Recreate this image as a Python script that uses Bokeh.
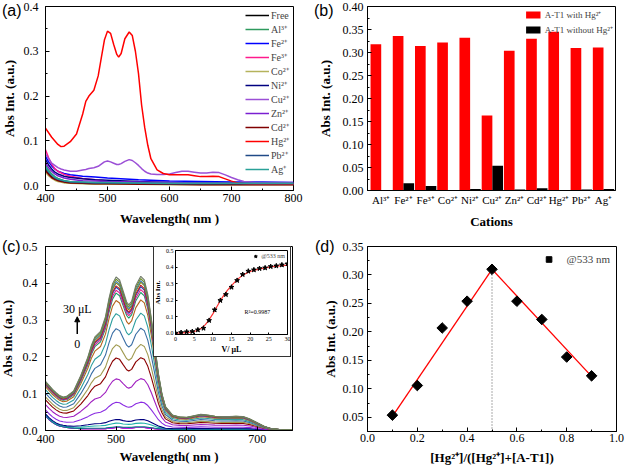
import numpy as np
from bokeh.plotting import figure
from bokeh.models import (Column, Label, Arrow, NormalHead, FixedTicker, Div,
                          NumeralTickFormatter, ColumnDataSource)
from bokeh.transform import dodge
from bokeh.embed import file_html
from bokeh.resources import INLINE

SERIF = "Liberation Serif"
SANS = "Liberation Sans"

# ---------------- data: panel (a) ----------------
wl_a_fine = [400, 410, 420, 425, 430, 440, 450, 460, 465, 470, 478, 485, 490, 495, 500,
             505, 510, 515, 518, 522, 528, 535, 540, 545, 550, 555, 560, 565, 570, 580,
             590, 600, 610, 620, 630, 640, 650, 660, 670, 680, 690, 700, 710, 720, 740, 760, 800]
hg_a = [0.128, 0.108, 0.092, 0.087, 0.088, 0.098, 0.115, 0.160, 0.188, 0.200, 0.213, 0.245, 0.285, 0.325, 0.345,
        0.340, 0.315, 0.293, 0.287, 0.295, 0.328, 0.343, 0.335, 0.300, 0.250, 0.180, 0.130, 0.090, 0.060, 0.035,
        0.027, 0.024, 0.024, 0.024, 0.024, 0.022, 0.020, 0.020, 0.021, 0.020, 0.015, 0.010, 0.006, 0.004, 0.003, 0.003, 0.003]
cu_a = [0.070, 0.050, 0.040, 0.037, 0.035, 0.032, 0.032, 0.035, 0.036, 0.038, 0.040, 0.043, 0.048, 0.053, 0.055,
        0.053, 0.050, 0.047, 0.047, 0.049, 0.054, 0.058, 0.056, 0.051, 0.045, 0.038, 0.032, 0.028, 0.026, 0.025,
        0.025, 0.026, 0.029, 0.032, 0.032, 0.030, 0.028, 0.028, 0.030, 0.029, 0.024, 0.018, 0.013, 0.009, 0.007, 0.007, 0.007]
wl_a = [400, 405, 410, 415, 420, 430, 440, 460, 480, 500, 550, 600, 650, 700, 750, 800]
free_a = [0.035, 0.026, 0.019, 0.014, 0.011, 0.008, 0.006, 0.005, 0.004, 0.004, 0.003, 0.003, 0.003, 0.003, 0.003, 0.003]
al_a = [0.045, 0.034, 0.026, 0.020, 0.016, 0.011, 0.008, 0.006, 0.005, 0.005, 0.004, 0.004, 0.003, 0.003, 0.003, 0.003]
fe2_a = [0.065, 0.053, 0.044, 0.037, 0.032, 0.027, 0.024, 0.021, 0.019, 0.017, 0.013, 0.010, 0.009, 0.008, 0.008, 0.007]
fe3_a = [0.080, 0.062, 0.048, 0.038, 0.032, 0.025, 0.021, 0.016, 0.013, 0.010, 0.006, 0.004, 0.003, 0.003, 0.003, 0.003]
co_a = [0.030, 0.022, 0.016, 0.012, 0.009, 0.006, 0.005, 0.004, 0.003, 0.003, 0.003, 0.002, 0.002, 0.002, 0.002, 0.002]
ni_a = [0.058, 0.046, 0.037, 0.030, 0.026, 0.021, 0.018, 0.015, 0.013, 0.012, 0.009, 0.007, 0.006, 0.005, 0.005, 0.004]
zn_a = [0.050, 0.040, 0.032, 0.026, 0.022, 0.017, 0.014, 0.011, 0.010, 0.009, 0.008, 0.007, 0.006, 0.006, 0.005, 0.005]
cd_a = [0.033, 0.025, 0.018, 0.014, 0.011, 0.008, 0.006, 0.005, 0.004, 0.004, 0.003, 0.003, 0.002, 0.002, 0.002, 0.002]
pb_a = [0.040, 0.030, 0.023, 0.017, 0.014, 0.010, 0.008, 0.007, 0.006, 0.006, 0.005, 0.004, 0.004, 0.004, 0.004, 0.004]
ag_a = [0.042, 0.032, 0.024, 0.019, 0.015, 0.011, 0.009, 0.008, 0.007, 0.007, 0.006, 0.005, 0.005, 0.005, 0.005, 0.005]

# ---------------- data: panel (b) ----------------
cations = ["Al³⁺", "Fe²⁺", "Fe³⁺", "Co²⁺", "Ni²⁺", "Cu²⁺", "Zn²⁺", "Cd²⁺", "Hg²⁺", "Pb²⁺", "Ag⁺"]
with_hg = [0.318, 0.336, 0.314, 0.322, 0.332, 0.163, 0.304, 0.330, 0.345, 0.310, 0.311]
without_hg = [0.000, 0.016, 0.010, 0.000, 0.003, 0.054, 0.002, 0.005, 0.000, 0.002, 0.003]

# ---------------- data: panel (c) ----------------
wl_c = [400, 405, 410, 415, 420, 425, 430, 440, 450, 460, 465, 470, 478, 485, 490, 495,
        500, 505, 510, 515, 518, 522, 528, 535, 540, 545, 550, 555, 560, 565, 570, 580,
        590, 600, 610, 620, 630, 640, 650, 660, 670, 680, 690, 700, 710, 720, 735, 750]
spec_30uL = [0.134, 0.123, 0.112, 0.103, 0.095, 0.091, 0.093, 0.108, 0.150, 0.200, 0.232, 0.255, 0.270, 0.310, 0.360, 0.400,
             0.418, 0.410, 0.380, 0.350, 0.342, 0.352, 0.395, 0.420, 0.410, 0.370, 0.305, 0.230, 0.155, 0.100, 0.065, 0.042,
             0.037, 0.036, 0.040, 0.044, 0.042, 0.039, 0.038, 0.038, 0.039, 0.038, 0.031, 0.021, 0.011, 0.005, 0.002, 0.001]
spec_0uL = [0.040, 0.030, 0.022, 0.016, 0.012, 0.010, 0.008, 0.006, 0.005, 0.005, 0.005, 0.005, 0.005, 0.005, 0.006, 0.007,
            0.008, 0.008, 0.007, 0.007, 0.007, 0.007, 0.008, 0.008, 0.008, 0.007, 0.006, 0.005, 0.004, 0.004, 0.003, 0.003,
            0.003, 0.003, 0.003, 0.003, 0.003, 0.003, 0.003, 0.003, 0.003, 0.003, 0.003, 0.002, 0.002, 0.002, 0.001, 0.001]
vol_ul = [0, 1.5, 3, 4.5, 6, 7.5, 9, 10.5, 12, 13.5, 15, 16.5, 18, 19.5, 21, 22.5, 24, 25.5, 27, 28.5, 30]
abs_533 = [0.000, 0.004, 0.008, 0.010, 0.020, 0.030, 0.077, 0.141, 0.198, 0.234, 0.278, 0.319, 0.355, 0.375,
           0.383, 0.391, 0.395, 0.403, 0.407, 0.413, 0.419]
fit_v = [0, 2, 4, 5, 6, 7, 8, 9, 10, 11, 12, 13, 14, 15, 16, 17, 18, 19, 20, 21, 22, 24, 26, 28, 30]
fit_abs = [0.000, 0.002, 0.006, 0.010, 0.018, 0.031, 0.052, 0.081, 0.117, 0.157, 0.196, 0.232, 0.262, 0.288,
           0.312, 0.333, 0.350, 0.363, 0.373, 0.380, 0.386, 0.395, 0.402, 0.407, 0.411]
titration_colors = ["#ff0000", "#0000ff", "#ff00ff", "#008080", "#20b2aa", "#000080", "#8a2be2", "#a020c0",
                    "#8b0000", "#a09a50", "#3a6ea5", "#2e9f9f", "#b5651d", "#1a9a6a", "#e0208a", "#2040c0",
                    "#c02020", "#808000", "#4682b4", "#6b8e23", "#707a68"]

# ---------------- data: panel (d) ----------------
mole_frac = [0.1, 0.2, 0.3, 0.4, 0.5, 0.6, 0.7, 0.8, 0.9]
job_abs = [0.054, 0.106, 0.207, 0.254, 0.310, 0.254, 0.222, 0.156, 0.123]
fit_left_x = [0.1, 0.5]
fit_left_y = [0.052, 0.310]
fit_right_x = [0.5, 0.9]
fit_right_y = [0.310, 0.122]

BL, BR, BT, BB = 70, 30, 20, 50   # generous borders; frames are placed exactly via absolute offsets


def base_fig(fw, fh, xr, yr):
    p = figure(frame_width=fw, frame_height=fh, x_range=xr, y_range=yr, output_backend="svg",
               toolbar_location=None, min_border_left=BL, min_border_right=BR,
               min_border_top=BT, min_border_bottom=BB)
    p.xgrid.visible = False
    p.ygrid.visible = False
    p.outline_line_color = "black"
    p.outline_line_alpha = 1
    p.outline_line_width = 1
    p.background_fill_color = "white"
    p.border_fill_alpha = 0
    for ax in list(p.xaxis) + list(p.yaxis):
        ax.major_tick_in = 4
        ax.major_tick_out = 0
        ax.minor_tick_in = 2
        ax.minor_tick_out = 0
        ax.axis_line_color = "black"
        ax.major_tick_line_color = "black"
        ax.minor_tick_line_color = "black"
        ax.major_label_text_font = SERIF
        ax.major_label_text_font_size = "12px"
        ax.major_label_text_color = "black"
        ax.axis_label_text_font = SERIF
        ax.axis_label_text_font_style = "bold"
        ax.axis_label_text_font_size = "13px"
        ax.axis_label_text_color = "black"
    return p


# ================= panel (a) =================
pa = base_fig(248, 184, (400, 800), (-0.011, 0.4))
pa.xaxis.ticker = FixedTicker(ticks=[400, 500, 600, 700, 800], minor_ticks=[450, 550, 650, 750])
pa.yaxis.ticker = FixedTicker(ticks=[0.0, 0.1, 0.2, 0.3, 0.4], minor_ticks=[0.05, 0.15, 0.25, 0.35])
pa.yaxis.formatter = NumeralTickFormatter(format="0.0")
pa.xaxis.axis_label = "Wavelength( nm )"
pa.yaxis.axis_label = "Abs Int. (a.u.)"
pa.xaxis.major_label_standoff = 3
pa.xaxis.axis_label_standoff = 6
pa.yaxis.major_label_standoff = 7
pa.yaxis.axis_label_standoff = 4

series_a = [
    ("Free", wl_a, free_a, "#000000"),
    ("Al³⁺", wl_a, al_a, "#2e9a5e"),
    ("Fe²⁺", wl_a, fe2_a, "#0000ff"),
    ("Fe³⁺", wl_a, fe3_a, "#ff1a8c"),
    ("Co²⁺", wl_a, co_a, "#b5b35c"),
    ("Ni²⁺", wl_a, ni_a, "#000080"),
    ("Cu²⁺", wl_a_fine, cu_a, "#9b4fd6"),
    ("Zn²⁺", wl_a, zn_a, "#7a1fd1"),
    ("Cd²⁺", wl_a, cd_a, "#800000"),
    ("Hg²⁺", wl_a_fine, hg_a, "#ff0000"),
    ("Pb²⁺", wl_a, pb_a, "#204a87"),
    ("Ag⁺", wl_a, ag_a, "#2aa198"),
]
for name, xs, ys, col in series_a:
    pa.line(xs, ys, line_color=col, line_width=1.5, legend_label=name)
lg = pa.legend[0]
lg.location = "top_right"
lg.margin = 0
lg.padding = 2
lg.spacing = 0
lg.border_line_alpha = 0
lg.background_fill_alpha = 0
lg.glyph_width = 24
lg.glyph_height = 14
lg.label_height = 14
lg.label_standoff = 2
lg.label_text_font = SERIF
lg.label_text_font_size = "10px"

# ================= panel (b) =================
pb = base_fig(248, 184, (0.383, 11.54), (0, 0.40))
src_b = ColumnDataSource(dict(x=list(range(1, len(cations) + 1)), w=with_hg, wo=without_hg))
pb.vbar(x=dodge("x", -0.24), top="w", width=0.48, source=src_b, fill_color="#ff0000",
        line_color=None, legend_label="A-T1 with Hg²⁺")
pb.vbar(x=dodge("x", 0.24), top="wo", width=0.48, source=src_b, fill_color="#000000",
        line_color=None, legend_label="A-T1 without Hg²⁺")
pb.xaxis.ticker = FixedTicker(ticks=list(range(1, len(cations) + 1)))
pb.xaxis.major_label_overrides = {i + 1: c for i, c in enumerate(cations)}
pb.xaxis.major_label_text_font_size = "11px"
pb.xaxis.major_tick_in = 0
pb.yaxis.ticker = FixedTicker(ticks=[0.0, 0.05, 0.10, 0.15, 0.20, 0.25, 0.30, 0.35, 0.40],
                              minor_ticks=[0.025, 0.075, 0.125, 0.175, 0.225, 0.275, 0.325, 0.375])
pb.yaxis.formatter = NumeralTickFormatter(format="0.00")
pb.xaxis.axis_label = "Cations"
pb.yaxis.axis_label = "Abs Int. (a.u.)"
pb.xaxis.major_label_standoff = 3
pb.xaxis.axis_label_standoff = 5
pb.yaxis.major_label_standoff = 4
pb.yaxis.axis_label_standoff = 7
lb = pb.legend[0]
lb.location = "top_right"
lb.margin = 0
lb.padding = 2
lb.spacing = 2
lb.border_line_alpha = 0
lb.background_fill_alpha = 0
lb.glyph_width = 18
lb.glyph_height = 9
lb.label_height = 10
lb.label_standoff = 3
lb.label_text_font = SERIF
lb.label_text_font_size = "9px"

# ================= panel (c) =================
pc = base_fig(247, 184, (400, 750), (0, 0.5))
pc.xaxis.ticker = FixedTicker(ticks=[400, 500, 600, 700], minor_ticks=[450, 550, 650, 750])
pc.yaxis.ticker = FixedTicker(ticks=[0.0, 0.1, 0.2, 0.3, 0.4, 0.5],
                              minor_ticks=[0.05, 0.15, 0.25, 0.35, 0.45])
pc.yaxis.formatter = NumeralTickFormatter(format="0.0")
pc.xaxis.axis_label = "Wavelength( nm )"
pc.yaxis.axis_label = "Abs Int. (a.u.)"
pc.xaxis.major_label_standoff = 4
pc.xaxis.axis_label_standoff = 3
pc.yaxis.major_label_standoff = 8
pc.yaxis.axis_label_standoff = 5

top_arr = np.array(spec_30uL)
free_arr = np.array(spec_0uL)
i535 = wl_c.index(535)
# each titration spectrum: the 533 nm absorbance read from the inset sets how far it has
# moved from the 0 uL spectrum towards the 30 uL spectrum
for amp, col in zip(abs_533, titration_colors):
    frac = (amp - free_arr[i535]) / (top_arr[i535] - free_arr[i535])
    frac = max(frac, 0.0)
    pc.line(wl_c, free_arr + frac * (top_arr - free_arr), line_color=col, line_width=1.1)

lab_x = 445
pc.add_layout(Label(x=lab_x, y=0.329, text="30 μL", text_font=SERIF, text_font_size="12px",
                    text_align="center", text_baseline="middle", text_color="black"))
pc.add_layout(Label(x=lab_x, y=0.234, text="0", text_font=SERIF, text_font_size="12px",
                    text_align="center", text_baseline="middle", text_color="black"))
pc.add_layout(Arrow(end=NormalHead(size=5, fill_color="black", line_color="black"),
                    x_start=lab_x, y_start=0.262, x_end=lab_x, y_end=0.309,
                    line_color="black", line_width=1.5))

# ================= inset =================
pin = base_fig(112, 84, (0, 30), (-0.008, 0.5))
pin.xaxis.ticker = FixedTicker(ticks=[0, 5, 10, 15, 20, 25, 30])
pin.yaxis.ticker = FixedTicker(ticks=[0.0, 0.1, 0.2, 0.3, 0.4, 0.5])
pin.yaxis.formatter = NumeralTickFormatter(format="0.0")
for ax in list(pin.xaxis) + list(pin.yaxis):
    ax.major_label_text_font_size = "6px"
    ax.major_tick_in = 2
    ax.major_label_standoff = 2
    ax.axis_label_standoff = 1
pin.xaxis.axis_label = "V/ μL"
pin.xaxis.axis_label_text_font_size = "8px"
pin.yaxis.axis_label = "Abs Int."
pin.yaxis.axis_label_text_font_size = "7px"
pin.line(fit_v, fit_abs, line_color="#ff3030", line_width=1.2)
pin.scatter(vol_ul, abs_533, marker="star", size=5, fill_color="black", line_color="black",
            legend_label="@533 nm")
pin.add_layout(Label(x=18.5, y=0.13, text="R²=0.9987", text_font=SERIF, text_font_size="6px",
                     text_baseline="middle", text_color="black"))
li = pin.legend[0]
li.location = "top_right"
li.margin = 2
li.padding = 0
li.border_line_alpha = 0
li.background_fill_alpha = 0
li.glyph_width = 8
li.glyph_height = 8
li.label_height = 8
li.label_standoff = 2
li.label_text_font = SERIF
li.label_text_font_size = "6px"

# ================= panel (d) =================
pd_ = base_fig(249, 185, (0.0, 1.0), (0.0253, 0.35))
pd_.xaxis.ticker = FixedTicker(ticks=[0.0, 0.2, 0.4, 0.6, 0.8, 1.0], minor_ticks=[0.1, 0.3, 0.5, 0.7, 0.9])
pd_.yaxis.ticker = FixedTicker(ticks=[0.05, 0.10, 0.15, 0.20, 0.25, 0.30, 0.35],
                               minor_ticks=[0.075, 0.125, 0.175, 0.225, 0.275, 0.325])
pd_.xaxis.formatter = NumeralTickFormatter(format="0.0")
pd_.yaxis.formatter = NumeralTickFormatter(format="0.00")
pd_.xaxis.axis_label = "[Hg²⁺]/([Hg²⁺]+[A-T1])"
pd_.yaxis.axis_label = "Abs Int. (a.u.)"
pd_.xaxis.major_label_standoff = 2
pd_.xaxis.axis_label_standoff = 5
pd_.yaxis.major_label_standoff = 4
pd_.yaxis.axis_label_standoff = 2
ipk = int(np.argmax(job_abs))
pd_.segment(x0=[mole_frac[ipk]], y0=[pd_.y_range.start], x1=[mole_frac[ipk]], y1=[job_abs[ipk]],
            line_color="#555555", line_dash="1 2", line_width=1)
pd_.line(fit_left_x, fit_left_y, line_color="#ff0000", line_width=1.3)
pd_.line(fit_right_x, fit_right_y, line_color="#ff0000", line_width=1.3)
pd_.scatter(mole_frac, job_abs, marker="square", angle=np.pi / 4, size=7.5,
            fill_color="black", line_color="black", legend_label="@533 nm")
ld = pd_.legend[0]
ld.location = "top_right"
ld.margin = 6
ld.padding = 0
ld.border_line_alpha = 0
ld.background_fill_alpha = 0
ld.glyph_width = 16
ld.glyph_height = 14
ld.label_height = 14
ld.label_standoff = 10
ld.label_text_font = SERIF
ld.label_text_font_size = "11px"


# ================= panel letters and inset box =================
def letter(text, l, t):
    return Div(text=text, width=24, height=20,
               styles={"position": "absolute", "left": f"{l}px", "top": f"{t}px",
                       "font-family": SANS, "font-size": "16px", "color": "black",
                       "line-height": "16px", "margin": "0", "padding": "0"})


letters = [letter("(a)", 2, 3), letter("(b)", 314, 3), letter("(c)", 2, 239), letter("(d)", 315, 239)]
inset_box = Div(text="", width=138, height=111,
                styles={"position": "absolute", "left": "153px", "top": "246px",
                        "background": "white", "border": "1px solid #333333", "margin": "0"})

# ================= layout: frames placed at the reference frame positions =================
frame_pos = [(pa, 45, 6), (pb, 367, 6), (pc, 45, 246), (pd_, 367, 246)]
for fig, fl, ft in frame_pos:
    fig.styles = {"position": "absolute", "left": f"{fl - BL}px", "top": f"{ft - BT}px"}
pin.styles = {"position": "absolute", "left": f"{175 - BL}px", "top": f"{250 - BT}px"}
children = [f for f, _, _ in frame_pos] + [inset_box, pin] + letters
root = Column(children=children, width=626, height=468, sizing_mode="fixed",
              styles={"position": "relative", "overflow": "hidden"})

open("out.html", "w").write(file_html(root, INLINE))
